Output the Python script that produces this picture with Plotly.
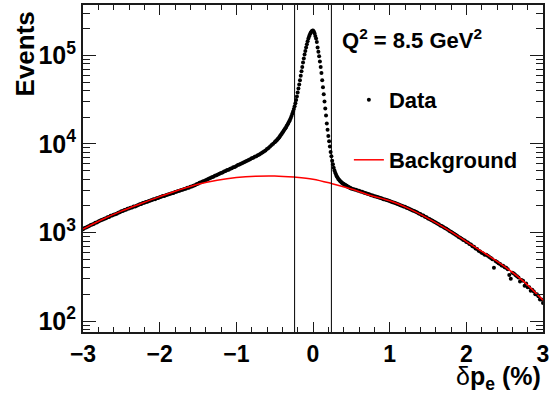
import numpy as np
import plotly.graph_objects as go

FONT = "Liberation Sans"

# ---- data: reconstructed event counts per bin ----
DP_LEFT = np.round(np.arange(-3.00, -0.51, 0.02), 2)   # -3.00 ... -0.52
EV_LEFT = [
    1090, 1120, 1135, 1160, 1180, 1215, 1230, 1250, 1290, 1300, 1330, 1360, 1380,
    1400, 1430, 1450, 1490, 1500, 1540, 1550, 1590, 1610, 1630, 1670, 1690, 1740,
    1750, 1790, 1800, 1850, 1860, 1900, 1920, 1960, 1970, 2010, 2040, 2080, 2100,
    2150, 2160, 2210, 2220, 2260, 2300, 2320, 2370, 2380, 2430, 2450, 2500,
    2530, 2580, 2590, 2640, 2660, 2710, 2740, 2780, 2800, 2860, 2880, 2940, 2960,
    3020, 3040, 3100, 3120, 3190, 3210, 3280, 3310, 3380, 3420, 3500, 3560,
    3640, 3680, 3760, 3810, 3900, 3960, 4050, 4110, 4200, 4260, 4360, 4420, 4530,
    4590, 4700, 4760, 4870, 4940, 5060, 5120, 5240, 5310, 5440, 5500, 5640,
    5780, 5850, 5990, 6080, 6220, 6330, 6460, 6590, 6700, 6870, 6970, 7150,
    7270, 7460, 7600, 7820, 7980, 8230, 8420, 8740, 9020, 9350, 9700, 10050,
]
DP_CORE = np.round(np.arange(-0.50, 0.505, 0.01), 2)    # -0.50 ... 0.50
EV_CORE = [
    10470, 10670, 10860, 11090, 11350, 11610, 11910, 12250, 12590, 12940,
    13340, 13740, 14160, 14620, 15070, 15560, 16110, 16670, 17300, 17990,
    18750, 19630, 20650, 21880, 23230, 24770, 26610, 28840, 31410, 34430,
    38020, 42170, 46990, 52480, 58880, 66070, 74130, 83180, 92260, 102300,
    112200, 123000, 133400, 144500, 154900, 164100, 173000, 180300, 185800, 189200,
    190500,
    186200, 177800, 166000, 154900, 141300, 123000, 109600, 97700, 85100, 74100,
    63100, 52500, 43650, 36310, 30200, 25120, 20890, 16980, 14450, 12300,
    10720, 9330, 8130, 7240, 6460, 5890, 5370, 5010, 4730, 4520,
    4320, 4170, 4030, 3940, 3850, 3760, 3700, 3630, 3570, 3520,
    3475, 3440, 3400, 3360, 3310, 3270, 3240, 3200, 3160, 3130,
]
DP_RIGHT = np.round(np.arange(0.52, 3.001, 0.02), 2)    # 0.52 ... 3.00
EV_RIGHT = [
    3100, 3050, 3030, 2980, 2950, 2900, 2880, 2830, 2800, 2760, 2720, 2690, 2640,
    2620, 2570, 2550, 2510, 2480, 2450, 2420, 2380, 2360, 2320, 2300, 2260,
    2230, 2200, 2160, 2140, 2100, 2070, 2030, 2010, 1970, 1950, 1900, 1880, 1840,
    1810, 1770, 1750, 1710, 1680, 1640, 1620, 1570, 1550, 1510, 1490, 1440,
    1420, 1380, 1360, 1320, 1300, 1260, 1240, 1200, 1180, 1150, 1120, 1100, 1070,
    1040, 1020, 990, 970, 940, 920, 890, 870, 850, 820, 810, 780,
    770, 740, 730, 700, 690, 660, 650, 620, 610, 590, 580, 560, 560,
    545, 530, 515, 500, 400, 475, 465, 450, 440, 425, 420, 405,
    400, 385, 330, 300, 350, 345, 330, 320, 310, 280, 290, 285, 250,
    265, 240, 240, 220, 225, 215, 200, 200, 190, 175, 175, 160,
]
BG_X = np.round(np.arange(-3.0, 3.001, 0.25), 2)
BG_EVENTS = [1090, 1400, 1740, 2110, 2540, 3020, 3510, 3890, 4170, 4320, 4345, 4220,
             4000, 3560, 3100, 2620, 2280, 1860, 1445, 1085, 790, 575, 412, 279, 172]
CUTS = [-0.24, 0.24]

assert len(DP_LEFT) == len(EV_LEFT)
assert len(DP_CORE) == len(EV_CORE)
assert len(DP_RIGHT) == len(EV_RIGHT)
assert len(BG_X) == len(BG_EVENTS)

dp = np.concatenate([DP_LEFT, DP_CORE, DP_RIGHT])
ev = np.array(EV_LEFT + EV_CORE + EV_RIGHT, dtype=float)

fig = go.Figure()
fig.add_trace(go.Scatter(
    x=dp, y=ev, mode="markers", name="Data", showlegend=True,
    marker=dict(color="black", size=4, line=dict(width=0)),
    legend="legend",
))
fig.add_trace(go.Scatter(
    x=BG_X, y=BG_EVENTS, mode="lines", name="Background", showlegend=True,
    line=dict(color="#ff0000", width=1.5, shape="spline", smoothing=1.0),
    legend="legend2",
))
for c in CUTS:
    fig.add_vline(x=c, line=dict(color="black", width=1))

axis_common = dict(
    showline=True, linecolor="#1a1a1a", linewidth=2, mirror="allticks",
    ticks="inside", tickcolor="#1a1a1a", tickwidth=1, showgrid=False, zeroline=False,
    automargin=False, ticklabeloverflow="allow",
)

minor_y = [m * 10 ** e for e in range(1, 6) for m in range(2, 10)]

fig.update_layout(
    width=549, height=394, autosize=False, showlegend=True,
    margin=dict(l=83, r=6, t=5, b=62),
    paper_bgcolor="white", plot_bgcolor="white",
    font=dict(family=FONT, color="black"),
    xaxis=dict(
        range=[-3, 3], tickmode="linear", tick0=-3, dtick=1, ticklen=10,
        tickfont=dict(family=FONT, size=23, weight="bold"),
        minor=dict(dtick=0.2, tick0=-3, ticks="inside", ticklen=5, tickcolor="#1a1a1a"),
        **axis_common,
    ),
    yaxis=dict(
        type="log", range=[1.876, 5.569], tickmode="array",
        tickvals=[1e2, 1e3, 1e4, 1e5],
        ticktext=["<b>10<sup>2</sup></b>", "<b>10<sup>3</sup></b>",
                  "<b>10<sup>4</sup></b>", "<b>10<sup>5</sup></b>"],
        ticklen=13,
        tickfont=dict(family=FONT, size=25),
        minor=dict(tickvals=minor_y, ticks="inside", ticklen=7, tickcolor="#1a1a1a"),
        **axis_common,
    ),
    legend=dict(
        x=0.578, xanchor="left", y=0.7095, yanchor="middle",
        bgcolor="rgba(0,0,0,0)", itemsizing="trace",
        font=dict(family=FONT, size=22, weight="bold", color="black"),
    ),
    legend2=dict(
        x=0.578, xanchor="left", y=0.526, yanchor="middle",
        bgcolor="rgba(0,0,0,0)",
        font=dict(family=FONT, size=22, weight="bold", color="black"),
    ),
    annotations=[
        dict(text="<b>Events</b>", xref="paper", yref="paper", x=-0.126, y=0.985,
             xanchor="center", yanchor="top", textangle=-90, showarrow=False,
             font=dict(family=FONT, size=26)),
        dict(text="δ<b>p<sub>e</sub> (%)</b>", xref="paper", yref="paper", x=1.0, y=-0.086,
             xanchor="right", yanchor="top", showarrow=False,
             font=dict(family=FONT, size=25)),
        dict(text="<b>Q<sup>2</sup> = 8.5 GeV<sup>2</sup></b>", xref="paper", yref="paper",
             x=0.559, y=0.896, xanchor="left", yanchor="middle", showarrow=False,
             font=dict(family=FONT, size=22)),
    ],
)

fig.write_html("out.html")
